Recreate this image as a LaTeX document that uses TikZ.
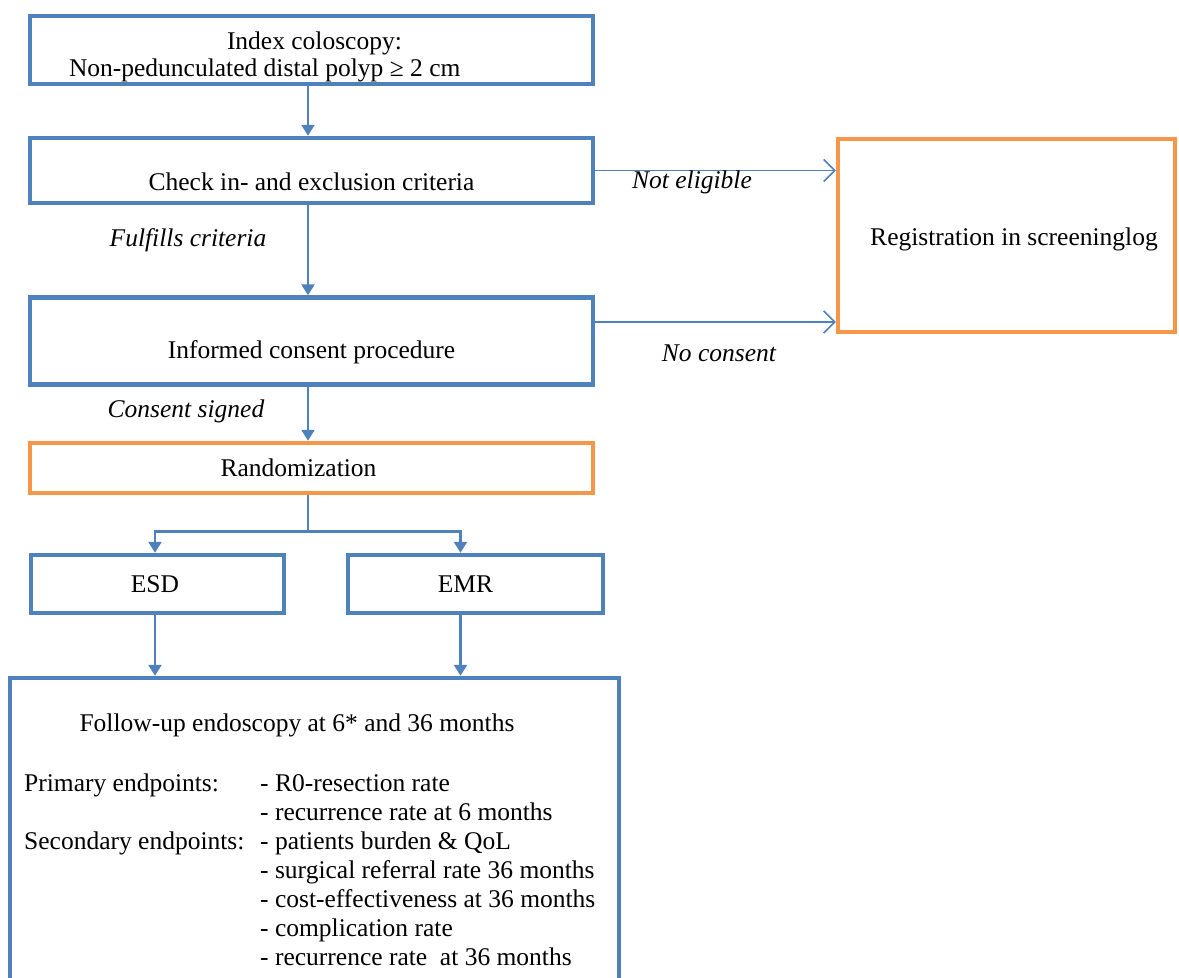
\documentclass[tikz,border=0pt]{standalone}
\usepackage{fontspec}
\setmainfont{Liberation Serif}
\usetikzlibrary{arrows.meta,calc}
\definecolor{boxblue}{RGB}{79,129,189}
\definecolor{boxorange}{RGB}{247,150,70}
\newcommand\myfs{\fontsize{25.5}{29}\selectfont}
\begin{document}
\begin{tikzpicture}[x=1pt,y=-1pt,
  bluebox/.style={draw=boxblue, line width=4.5pt, inner sep=0pt, font=\myfs},
  orangebox/.style={draw=boxorange, line width=4.5pt, inner sep=0pt, font=\myfs},
  plainline/.style={draw=boxblue, line width=2.5pt},
  conn/.style={draw=boxblue, line width=2.5pt, -{Triangle[width=13pt,length=11pt]}},
  side/.style={draw=boxblue, line width=1.5pt, -{Straight Barb[width=22pt,length=11pt]}},
  lbl/.style={font=\myfs\itshape, inner sep=0pt},
  txt/.style={font=\myfs, inner sep=0pt}]
\useasboundingbox (0,0) rectangle (1179,978);
\clip (0,0) rectangle (1179,978);
\fill[white] (0,0) rectangle (1179,978);

\node[bluebox, font=\fontsize{25.5}{27}\selectfont, minimum width=563pt, minimum height=68pt, text width=485pt, align=flush left, inner xsep=39pt] (idx) at (311.5,50)
  {\hspace*{158pt}\rule{0pt}{32pt}Index coloscopy:\\Non-pedunculated distal polyp ≥ 2 cm};
\node[bluebox, minimum width=563pt, minimum height=65pt] (chk) at (311.5,170.5)
  {\rule{0pt}{40pt}Check in- and exclusion criteria};
\node[bluebox, minimum width=563pt, minimum height=87pt] (inf) at (311.5,341)
  {\rule{0pt}{41pt}Informed consent procedure};
\node[orangebox, minimum width=563pt, minimum height=50pt] (rand) at (311.5,468)
  {\hspace*{-26pt}Randomization};
\node[bluebox, minimum width=253pt, minimum height=58pt] (esd) at (157.5,584) {\hspace*{-5pt}ESD};
\node[bluebox, minimum width=255pt, minimum height=58pt] (emr) at (475.5,584) {\hspace*{-20pt}EMR};
\node[bluebox, minimum width=609pt, minimum height=312pt] (fu) at (314.5,834) {};
\node[orangebox, minimum width=337pt, minimum height=193pt] (reg) at (1006.5,235.5)
  {\hspace*{15pt}\rule{0pt}{26pt}Registration in screeninglog};

\draw[conn] ([xshift=-3.5pt]idx.south) -- ([xshift=-3.5pt]chk.north);
\draw[conn] ([xshift=-3.5pt]chk.south) -- ([xshift=-3.5pt]inf.north);
\draw[conn] ([xshift=-3.5pt]inf.south) -- ([xshift=-3.5pt]rand.north);
\draw[plainline] ([xshift=-3.5pt]rand.south) -- ++(0,36) coordinate (br);
\draw[conn] (br) -| ([xshift=-2.5pt]esd.north);
\draw[conn] (br) -| ([xshift=-15pt]emr.north);
\draw[conn] ([xshift=-2.5pt]esd.south) -- ([xshift=-2.5pt]esd.south |- fu.north);
\draw[conn] ([xshift=-15pt]emr.south) -- ([xshift=-15pt]emr.south |- fu.north);
\draw[side] (chk.east) -- (chk.east -| reg.west);
\draw[side] ([yshift=19pt]inf.east) -- ([yshift=19pt]inf.east -| reg.west);

\node[lbl] (ne) at (692,182) {Not eligible};
\node[lbl] (nc) at (719,353) {No consent};
\node[lbl] (fc) at (188,240) {Fulfills criteria};
\node[lbl] (cs) at (186,411) {Consent signed};

\node[txt] (fut) at (297,725) {Follow-up endoscopy at 6* and 36 months};
\node[txt, anchor=base west] (ep) at (24,791) {\begin{tabular}[t]{@{}l@{}l@{}}
\makebox[236pt][l]{Primary endpoints:} & - R0-resection rate\\
 & - recurrence rate at 6 months\\
Secondary endpoints: & - patients burden \& QoL\\
 & - surgical referral rate 36 months\\
 & - cost-effectiveness at 36 months\\
 & - complication rate\\
 & - recurrence rate\ \ at 36 months
\end{tabular}};
\end{tikzpicture}
\end{document}
